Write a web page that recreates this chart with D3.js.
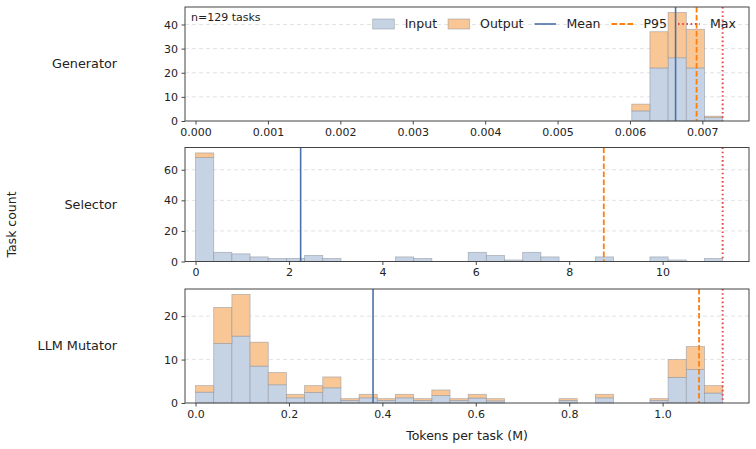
<!DOCTYPE html>
<html>
<head>
<meta charset="utf-8">
<script src="https://cdn.jsdelivr.net/npm/d3@7"></script>
<style>
  body { margin: 0; background: #fff; }
  text { font-family: "DejaVu Sans", sans-serif; fill: #222; }
</style>
</head>
<body>
<script>
// token histograms per component, 29 bins from 0 to max of each panel

var panelNames = ["Generator", "Selector", "LLM Mutator"];

var genTotal = [0,0,0,0,0,0,0,0,0,0,0,0,0,0,0,0,0,0,0,0,0,0,0,0,7,37,45,38,2];
var genInput = [0,0,0,0,0,0,0,0,0,0,0,0,0,0,0,0,0,0,0,0,0,0,0,0,4.2,22,26.2,22,1.4];

var selTotal = [71,6,5,3,2,2,4,2,0,0,0,3,2,0,0,6,4,1,6,3,0,0,3,0,0,3,1,0,2];
var selInput = [68,6,5,3,2,2,4,2,0,0,0,3,2,0,0,6,4,1,6,3,0,0,3,0,0,3,1,0,2];

var mutTotal = [4,22,25,14,7,2,4,6,1,2,1,2,1,3,1,2,1,0,0,0,1,0,2,0,0,1,10,13,4];
var mutInput = [2.5,13.7,15.4,8.5,4.2,1.2,2.4,3.5,0.6,1.2,0.6,1.2,0.6,1.7,0.6,1.15,0.5,0,0,0,0.6,0,1.2,0,0,0.6,5.9,7.7,2.3];

// mean, p95, max (tokens per task, M)
var genStats = [0.00663, 0.00692, 0.00728];
var selStats = [2.25, 8.74, 11.285];
var mutStats = [0.380, 1.078, 1.1285];

var genXTicks = [0, 0.001, 0.002, 0.003, 0.004, 0.005, 0.006, 0.007];
var selXTicks = [0, 2, 4, 6, 8, 10];
var mutXTicks = [0, 0.2, 0.4, 0.6, 0.8, 1.0];

var genYTicks = [0, 10, 20, 30, 40];
var selYTicks = [0, 20, 40, 60];
var mutYTicks = [0, 10, 20];

var legendLabels = ["Input", "Output", "Mean", "P95", "Max"];

var panels = [
  {name: panelNames[0], total: genTotal, input: genInput, stats: genStats, xt: genXTicks, yt: genYTicks, fmt: ".3f"},
  {name: panelNames[1], total: selTotal, input: selInput, stats: selStats, xt: selXTicks, yt: selYTicks, fmt: "d"},
  {name: panelNames[2], total: mutTotal, input: mutInput, stats: mutStats, xt: mutXTicks, yt: mutYTicks, fmt: ".1f"}
];

var width = 756;
var height = 449;
var left = 185, right = 749;
var tops = [7, 147.5, 289];
var ph = 114;

var inFill = "#c6d3e5";
var outFill = "#f9c796";
var edge = "#8a8f99";
var meanCol = "#4a72a8";
var p95Col = "#ff7f0e";
var maxCol = "#e8474a";

var svg = d3.select("body")
  .append("svg")
  .attr("width", width)
  .attr("height", height);

panels.forEach(function(p, k) {
  var nb = p.total.length;
  var mx = p.stats[2];
  var bw = mx / nb;

  var x = d3.scaleLinear()
    .domain([-0.02 * mx, 1.05 * mx])
    .range([left, right]);

  var y = d3.scaleLinear()
    .domain([0, d3.max(p.total) * 1.05])
    .range([tops[k] + ph, tops[k]]);

  var g = svg.append("g");

  // grid
  g.selectAll(".grid")
    .data(p.yt.slice(1))
    .enter().append("line")
    .attr("x1", left).attr("x2", right)
    .attr("y1", function(d) { return y(d); })
    .attr("y2", function(d) { return y(d); })
    .attr("stroke", "#dcdcdc")
    .attr("stroke-width", 0.8)
    .attr("stroke-dasharray", "4,3");

  var bins = p.total.map(function(t, i) {
    return {i: i, total: t, input: p.input[i]};
  }).filter(function(d) { return d.total > 0; });

  // input part
  g.selectAll(".inbar")
    .data(bins)
    .enter().append("rect")
    .attr("x", function(d) { return x(d.i * bw); })
    .attr("width", function(d) { return x((d.i + 1) * bw) - x(d.i * bw); })
    .attr("y", function(d) { return y(d.input); })
    .attr("height", function(d) { return y(0) - y(d.input); })
    .attr("fill", inFill)
    .attr("stroke", edge)
    .attr("stroke-opacity", 0.6)
    .attr("stroke-width", 0.8);

  // output part stacked on top
  g.selectAll(".outbar")
    .data(bins.filter(function(d) { return d.total - d.input > 0; }))
    .enter().append("rect")
    .attr("x", function(d) { return x(d.i * bw); })
    .attr("width", function(d) { return x((d.i + 1) * bw) - x(d.i * bw); })
    .attr("y", function(d) { return y(d.total); })
    .attr("height", function(d) { return y(d.input) - y(d.total); })
    .attr("fill", outFill)
    .attr("stroke", edge)
    .attr("stroke-opacity", 0.6)
    .attr("stroke-width", 0.8);

  // mean / p95 / max lines
  var styles = [
    {col: meanCol, dash: null, w: 1.6},
    {col: p95Col, dash: "5.5,2.5", w: 1.8},
    {col: maxCol, dash: "1.6,2.6", w: 2}
  ];
  p.stats.forEach(function(v, j) {
    g.append("line")
      .attr("x1", x(v)).attr("x2", x(v))
      .attr("y1", tops[k]).attr("y2", tops[k] + ph)
      .attr("stroke", styles[j].col)
      .attr("stroke-width", styles[j].w)
      .attr("stroke-dasharray", styles[j].dash);
  });

  // axes
  var xa = g.append("g")
    .attr("transform", "translate(0," + (tops[k] + ph) + ")")
    .call(d3.axisBottom(x).tickValues(p.xt).tickFormat(d3.format(p.fmt)).tickSize(3.5).tickPadding(3.5));
  var ya = g.append("g")
    .attr("transform", "translate(" + left + ",0)")
    .call(d3.axisLeft(y).tickValues(p.yt).tickFormat(d3.format("d")).tickSize(3.5).tickPadding(3.5));
  [xa, ya].forEach(function(a) {
    a.select(".domain").remove();
    a.selectAll(".tick line").attr("stroke", "#333").attr("stroke-width", 0.9);
    a.selectAll(".tick text").style("font-size", "11px").attr("fill", "#222")
      .style("font-family", "DejaVu Sans, sans-serif");
  });

  g.append("rect")
    .attr("x", left).attr("y", tops[k])
    .attr("width", right - left).attr("height", ph)
    .attr("fill", "none")
    .attr("stroke", "#444")
    .attr("stroke-width", 1);

  g.append("text")
    .attr("x", 117)
    .attr("y", tops[k] + ph / 2)
    .attr("dy", "0.35em")
    .attr("text-anchor", "end")
    .style("font-size", "12.8px")
    .text(p.name);

  if (k == 0) {
    g.append("text")
      .attr("x", 191)
      .attr("y", tops[k] + 10)
      .attr("dy", "0.35em")
      .style("font-size", "11px")
      .text("n=129 tasks");

    // legend, one row, no frame
    var lg = g.append("g");
    var lx = 372.7, ly = 24;
    legendLabels.forEach(function(lab, j) {
      if (j < 2) {
        lg.append("rect")
          .attr("x", lx).attr("y", ly - 5)
          .attr("width", 21.6).attr("height", 10)
          .attr("fill", j == 0 ? inFill : outFill)
          .attr("stroke", edge)
          .attr("stroke-opacity", 0.6)
          .attr("stroke-width", 0.8);
      } else {
        var s = styles[j - 2];
        lg.append("line")
          .attr("x1", lx).attr("x2", lx + 21.6)
          .attr("y1", ly).attr("y2", ly)
          .attr("stroke", s.col)
          .attr("stroke-width", s.w)
          .attr("stroke-dasharray", s.dash);
      }
      var t = lg.append("text")
        .attr("x", lx + 32)
        .attr("y", ly)
        .attr("dy", "0.35em")
        .style("font-size", "12.5px")
        .text(lab);
      lx = lx + 32 + t.node().getComputedTextLength() + 11;
    });
  }

  if (k == 2) {
    g.append("text")
      .attr("x", (left + right) / 2)
      .attr("y", 436)
      .attr("dy", "0.35em")
      .attr("text-anchor", "middle")
      .style("font-size", "12.5px")
      .text("Tokens per task (M)");
  }
});

svg.append("text")
  .attr("transform", "translate(12," + (height / 2) + ") rotate(-90)")
  .attr("dy", "0.35em")
  .attr("text-anchor", "middle")
  .style("font-size", "12.5px")
  .text("Task count");
</script>
</body>
</html>
